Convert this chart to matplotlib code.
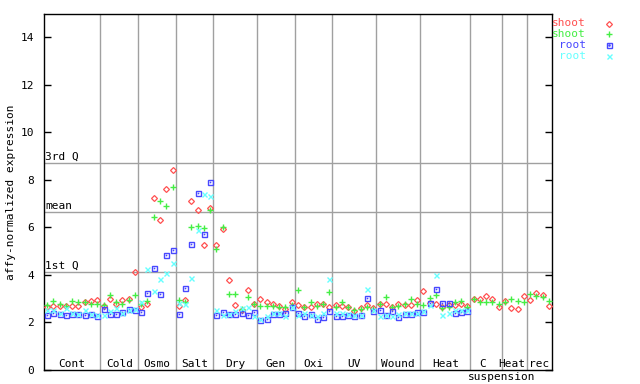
import numpy as np
import matplotlib
matplotlib.use('Agg')
from matplotlib import pyplot as plt

# group names along the x axis and how many samples each has
groups = ['Cont', 'Cold', 'Osmo', 'Salt', 'Dry', 'Gen', 'Oxi', 'UV', 'Wound', 'Heat', 'C', 'Heat', 'rec']
group_sizes = [9, 6, 6, 6, 7, 6, 6, 7, 7, 8, 5, 4, 4]

# shoot (red diamonds)
shoot_a = [2.62, 2.69, 2.66, 2.66, 2.66, 2.66, 2.83, 2.87, 2.92,
           2.69, 2.99, 2.74, 2.92, 2.99, 4.09,
           2.65, 2.74, 7.21, 6.28, 7.59, 8.39,
           2.69, 2.92, 7.08, 6.70, 5.23, 6.79,
           5.24, 5.93, 3.77, 2.71, 2.52, 3.37, 2.78,
           2.99, 2.84, 2.77, 2.67, 2.54, 2.83,
           2.72, 2.62, 2.65, 2.77, 2.78, 2.63,
           2.73, 2.67, 2.63, 2.45, 2.60, 2.72, 2.60,
           2.75, 2.76, 2.65, 2.78, 2.73, 2.72, 2.91,
           3.29, 2.80, 2.76, 2.65, 2.72, 2.70, 2.75, 2.68,
           2.97, 2.97, 3.11, 2.97, 2.62,
           2.87, 2.58, 2.53, 3.09,
           2.93, 3.21, 3.14, 2.67]
# shoot (green plus)
shoot_b = [2.71, 2.88, 2.76, 2.69, 2.88, 2.84, 2.84, 2.78, 2.74,
           2.70, 3.12, 2.84, 2.74, 2.91, 3.16,
           2.74, 2.88, 6.41, 7.08, 6.91, 7.67,
           2.92, 2.85, 5.99, 6.03, 5.95, 6.72,
           5.07, 5.99, 3.18, 3.18, 2.54, 3.07, 2.74,
           2.67, 2.67, 2.67, 2.64, 2.64, 2.70,
           3.35, 2.64, 2.86, 2.67, 2.77, 3.25,
           2.64, 2.84, 2.63, 2.52, 2.57, 2.62, 2.57,
           2.77, 3.07, 2.64, 2.66, 2.77, 2.96, 2.78,
           2.72, 3.00, 3.12, 2.58, 2.62, 2.83, 2.88, 2.64,
           2.96, 2.85, 2.85, 2.85, 2.78,
           2.85, 2.96, 2.90, 2.85,
           3.18, 3.09, 3.07, 2.88]
# root (blue squares)
root_a = [2.29, 2.39, 2.34, 2.29, 2.34, 2.32, 2.30, 2.35, 2.25,
          2.54, 2.32, 2.32, 2.41, 2.53, 2.52,
          2.41, 3.21, 4.26, 3.17, 4.81, 5.02,
          2.32, 3.42, 5.27, 7.42, 5.73, 7.92,
          2.29, 2.42, 2.32, 2.35, 2.37, 2.29, 2.42,
          2.10, 2.14, 2.35, 2.35, 2.38, 2.62,
          2.38, 2.27, 2.35, 2.11, 2.22, 2.46,
          2.27, 2.27, 2.28, 2.26, 2.29, 3.00, 2.46,
          2.51, 2.28, 2.46, 2.20, 2.35, 2.35, 2.42,
          2.44, 2.79, 3.38, 2.79, 2.79, 2.36, 2.42, 2.47]
# root (cyan x)
root_b = [2.51, 2.50, 2.40, 2.60, 2.40, 2.35, 2.52, 2.35, 2.28,
          2.28, 2.45, 2.60, 2.40, 2.50, 2.55,
          2.85, 4.22, 3.29, 3.80, 4.05, 4.47,
          2.80, 2.74, 3.84, 5.86, 7.38, 7.29,
          2.51, 2.28, 2.35, 2.45, 2.60, 2.64, 2.27,
          2.14, 2.25, 2.40, 2.38, 2.24, 2.65,
          2.29, 2.40, 2.28, 2.27, 2.38, 3.80,
          2.38, 2.38, 2.32, 2.28, 2.28, 3.39, 2.52,
          2.27, 2.30, 2.27, 2.32, 2.38, 2.40, 2.36,
          2.48, 2.70, 3.98, 2.28, 2.39, 2.51, 2.50, 2.52]

q_lines = [('3rd Q', 8.69), ('mean', 6.63), ('1st Q', 4.10)]

red = '#ff5050'
green = '#44ee44'
blue = '#4848ff'
cyan = '#66ffff'
grey = '#a0a0a0'

plt.rcParams['font.family'] = 'DejaVu Sans Mono'
plt.rcParams['font.size'] = 8

fig = plt.figure(figsize=(6.4, 3.84), dpi=100)
ax = fig.add_axes([44/640, 1-369.5/384, 508/640, 356/384])

n = len(shoot_a)
x = np.arange(n)
xr = np.arange(len(root_a))
ax.set_xlim(-0.5, n - 0.5)
ax.set_ylim(0, 15)

bounds = np.cumsum(group_sizes) - 0.5
for b in bounds[:-1]:
    ax.axvline(b, color=grey, lw=1, zorder=1)
for name, v in q_lines:
    ax.axhline(v, color=grey, lw=1, zorder=1)
    ax.text(-0.35, v + 0.05, name, ha='left', va='bottom', fontsize=8)

ax.plot(x, shoot_a, ls='none', marker='D', ms=3.0, mfc='none', mec=red, mew=0.9, zorder=3)
ax.plot(x, shoot_b, ls='none', marker='+', ms=5, mec=green, mew=1, zorder=3)
ax.plot(xr, root_a, ls='none', marker='s', ms=3.6, mfc='none', mec=blue, mew=1, zorder=3)
ax.plot(xr, root_a, ls='none', marker='s', ms=0.8, mfc=blue, mec=blue, mew=0.3, zorder=3)
ax.plot(xr, root_b, ls='none', marker='x', ms=3.6, mec=cyan, mew=1, zorder=3)

# group labels at the bottom of the axes
starts = np.concatenate([[-0.5], bounds[:-1]])
trans = ax.get_xaxis_transform()
for k, (name, s, e) in enumerate(zip(groups, starts, bounds)):
    xc = (s + e) / 2
    if k == 10:
        xc -= 0.5
    if k == 11:
        xc -= 0.35
    ax.text(xc, 0.016, name, transform=trans, ha='center', va='center', fontsize=8)
ax.text(bounds[10], -0.022, 'suspension', transform=trans, ha='center', va='center', fontsize=8)

ax.set_xticks([])
ax.set_yticks(np.arange(0, 15, 2))
ax.tick_params(axis='y', direction='in', length=5, width=1, right=True, pad=7)
for sp in ax.spines.values():
    sp.set_linewidth(1)

fig.text(11/640, 1-192/384, 'affy-normalized expression', rotation=90, ha='center', va='center', fontsize=8)

# legend on the right, text then marker
leg = [('shoot', red, 'D'), ('shoot', green, '+'), ('root', blue, 's'), ('root', cyan, 'x')]
for k, (lab, c, m) in enumerate(leg):
    yy = 1 - (23.5 + 10.9 * k) / 384
    fig.text(586/640, yy, lab, color=c, ha='right', va='center', fontsize=8)
    kw = dict(mfc='none', mec=c, mew=1, ms=3.6)
    if m == 'D':
        kw.update(ms=3.0, mew=0.9)
    if m == '+':
        kw.update(ms=5)
    fig.add_artist(plt.Line2D([609/640], [yy], marker=m, ls='none', transform=fig.transFigure, **kw))
    if m == 's':
        fig.add_artist(plt.Line2D([609/640], [yy], marker='s', ms=0.8, mfc=c, mec=c, ls='none', transform=fig.transFigure))

fig.savefig('out.png', dpi=100)
